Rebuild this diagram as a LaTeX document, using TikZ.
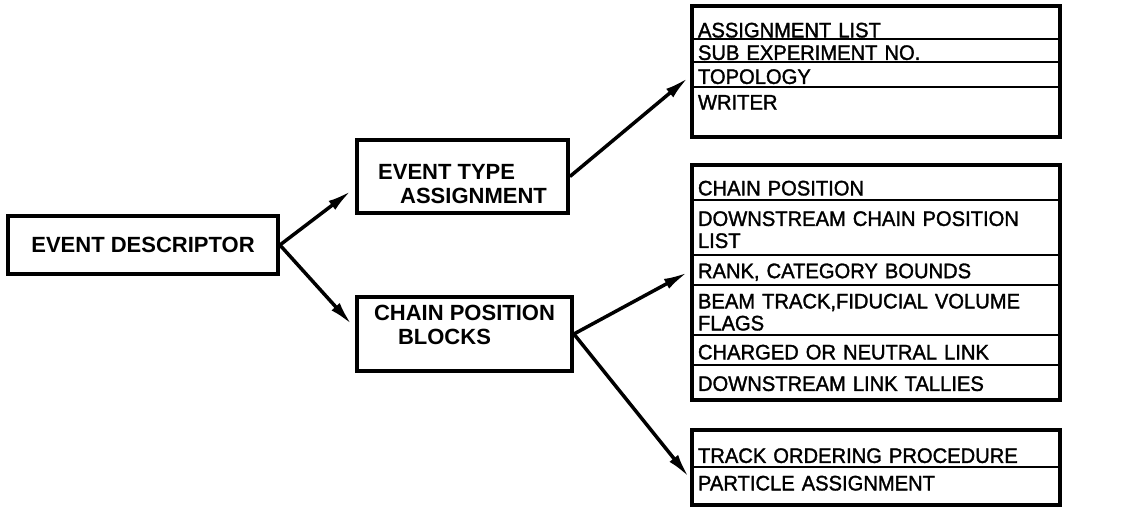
\documentclass[tikz,border=0pt]{standalone}
\usepackage{fontspec}
\setmainfont{Liberation Sans}
\newfontfamily\cellfont[FakeBold=1.5,FakeStretch=0.96]{Liberation Sans}
\usetikzlibrary{arrows, arrows.meta}
\usetikzlibrary{positioning}
\usetikzlibrary{calc}

\begin{document}
\begin{tikzpicture}[x=1pt,y=-1pt,
	box/.style={draw, line width=3.8pt, align=left, inner sep=0pt, font=\fontsize{22}{24}\selectfont\bfseries},
	cell/.style={anchor=north west, text width=356pt, inner xsep=6pt, inner ysep=0pt, outer sep=0pt, align=left, text height=19pt, font=\cellfont\fontsize{21}{22}\selectfont},
	rule/.style={line width=2.2pt},
	outline/.style={line width=3.8pt},
	link/.style={line width=3.5pt, -{Latex[length=24pt,width=11pt]}, shorten >=5pt}]
				\useasboundingbox (0,0) rectangle (1121,512);
				
				% left side
				\node[box, minimum width=270pt, minimum height=58pt] (desc) at (143,245) {EVENT DESCRIPTOR};
				\node[box, minimum width=211pt, minimum height=73pt] (etype) at (462.5,176.5) {\rule{0pt}{30pt}EVENT TYPE\\\hspace*{22pt}ASSIGNMENT};
				\node[box, minimum width=215pt, minimum height=74pt] (cblock) at (464.5,334) {CHAIN POSITION\\\hspace*{24pt}BLOCKS\rule[-18pt]{0pt}{18pt}};
				
				% top list
				\node[cell, minimum height=22pt] (alist) at (692,17) {ASSIGNMENT LIST};
				\node[cell, minimum height=23pt, below=0pt of alist] (subexp) {SUB EXPERIMENT NO.};
				\node[cell, minimum height=25pt, below=0pt of subexp] (topo) {TOPOLOGY};
				\node[cell, minimum height=26pt, below=0pt of topo] (writer) {WRITER};
				\draw[outline] ($(alist.north west)+(0,11pt)$) rectangle ($(writer.south east)+(0,-24pt)$);
				\foreach \r in {alist,subexp,topo}
					\draw[rule] (\r.south west) -- (\r.south east);
				
				% middle list
				\node[cell, minimum height=28pt] (cpos) at (692,172) {CHAIN POSITION};
				\node[cell, minimum height=55pt, below=0pt of cpos] (dcpl) {DOWNSTREAM CHAIN POSITION\\LIST};
				\node[cell, minimum height=30pt, below=0pt of dcpl] (rank) {RANK, CATEGORY BOUNDS};
				\node[cell, minimum height=50pt, below=0pt of rank] (beam) {BEAM TRACK,FIDUCIAL VOLUME\\FLAGS};
				\node[cell, minimum height=30pt, below=0pt of beam] (charged) {CHARGED OR NEUTRAL LINK};
				\node[cell, minimum height=33pt, below=0pt of charged] (tally) {DOWNSTREAM LINK TALLIES};
				\draw[outline] ($(cpos.north west)+(0,7pt)$) rectangle ($(tally.south east)+(0,-2pt)$);
				\foreach \r in {cpos,dcpl,rank,beam,charged}
					\draw[rule] (\r.south west) -- (\r.south east);
				
				% bottom list
				\node[cell, minimum height=27pt] (track) at (692,440) {TRACK ORDERING PROCEDURE};
				\node[cell, minimum height=28pt, below=0pt of track] (part) {PARTICLE ASSIGNMENT};
				\draw[outline] ($(track.north west)+(0,10pt)$) rectangle ($(part.south east)+(0,-10pt)$);
				\draw[rule] (track.south west) -- (track.south east);
				
				% arrows
				\draw[link] (desc.east) -- (etype.186);
				\draw[link] (desc.east) -- (cblock.177);
				\draw[link] (etype.east) -- (topo.west);
				\draw[link] (cblock.east) -- (rank.west);
				\draw[link] (cblock.east) -- (part.west);
			\end{tikzpicture}
\end{document}
